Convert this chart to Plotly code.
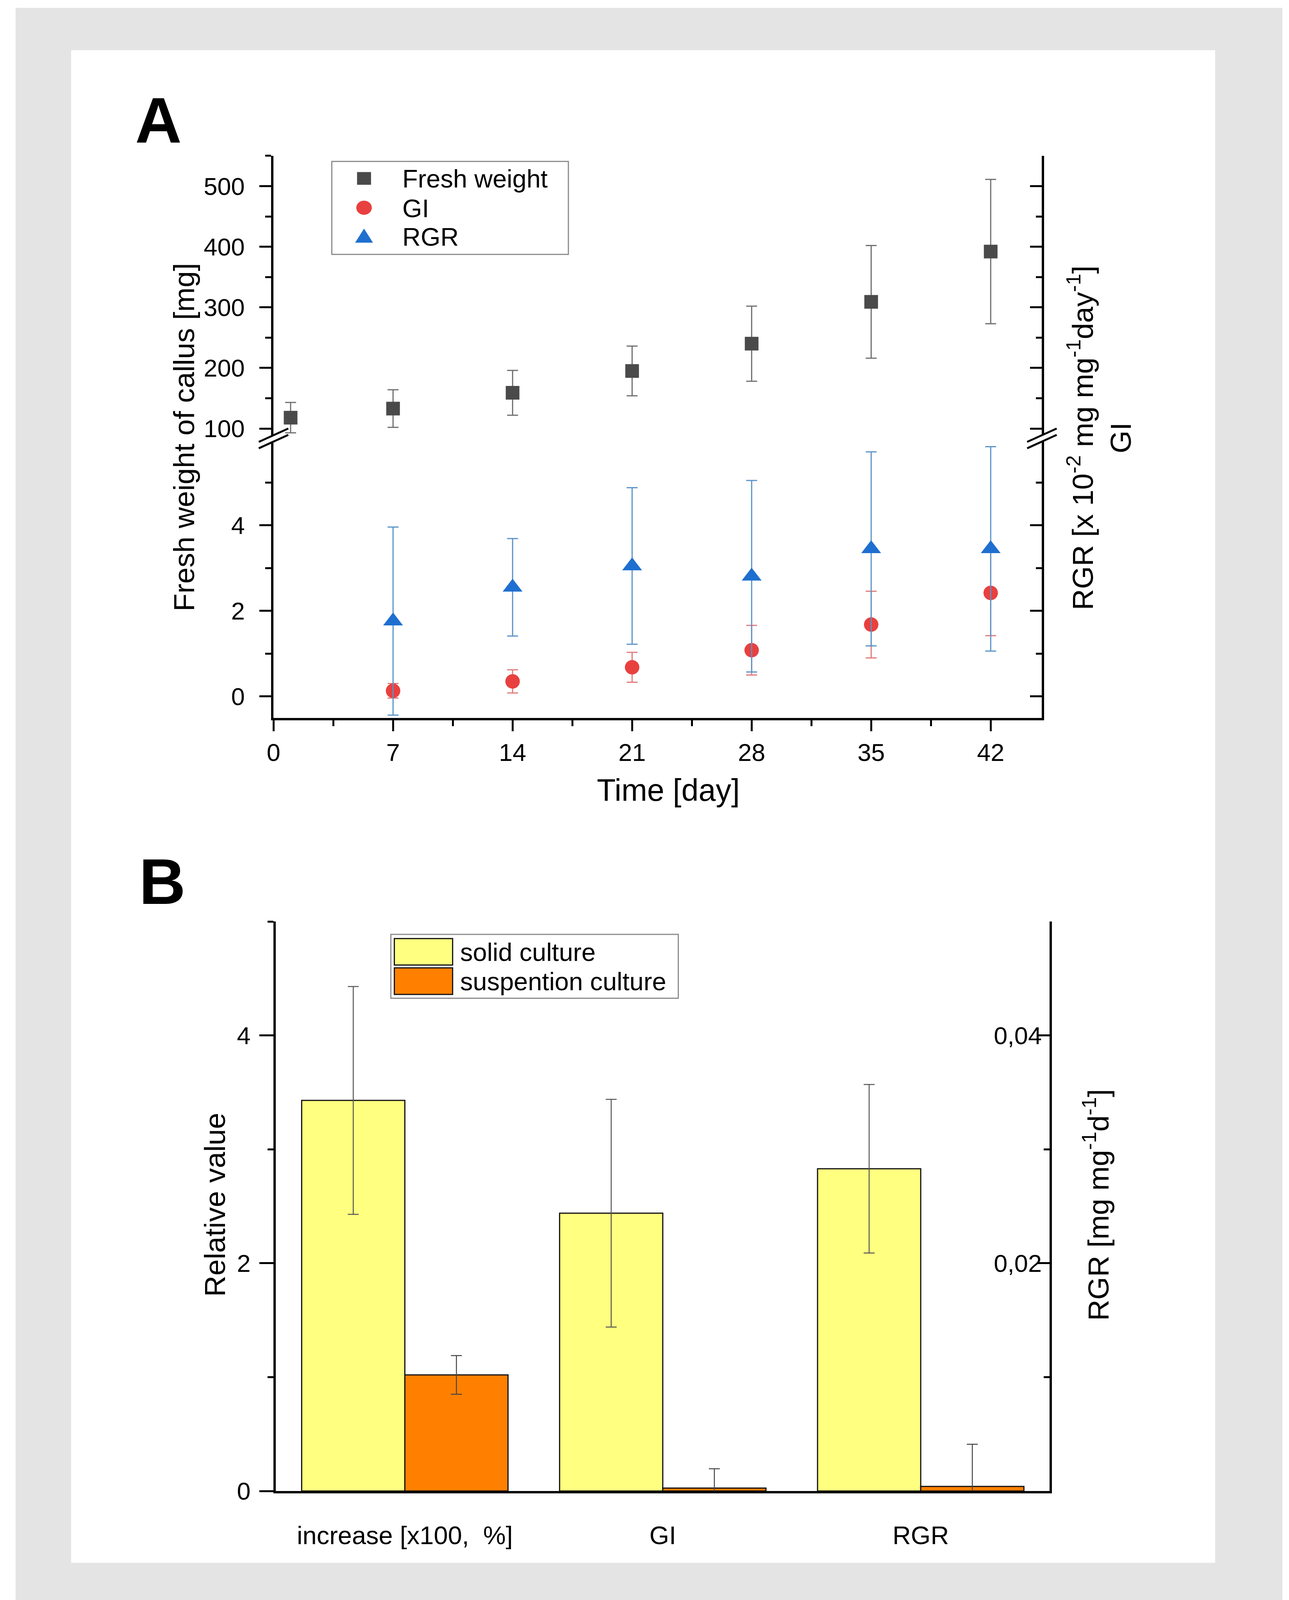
import plotly.graph_objects as go

# panel A data
days = [1, 7, 14, 21, 28, 35, 42]
fresh_weight = [118, 133, 159, 195, 240, 309, 392]
fresh_weight_err = [25, 31, 37, 41, 62, 93, 119]
gi_days = [7, 14, 21, 28, 35, 42]
gi = [0.13, 0.35, 0.68, 1.08, 1.68, 2.42]
gi_err = [0.17, 0.27, 0.35, 0.58, 0.78, 1.0]
rgr = [1.76, 2.55, 3.05, 2.81, 3.45, 3.45]
rgr_err = [2.2, 1.14, 1.83, 2.24, 2.27, 2.39]

# panel B data
categories = ["increase [x100,  %]", "GI", "RGR"]
solid = [3.43, 2.44, 2.83]
solid_err = [1.0, 1.0, 0.74]
suspension = [1.02, 0.026, 0.041]
suspension_err = [0.17, 0.17, 0.37]

FONT = "Liberation Sans, Arial, sans-serif"

# the visible page is about 3300 x 4175, so the reference layout (3300 x 4578)
# is squeezed vertically to fit
FW, FH = 3284, 4158
SY = 4175 / 4578
FS_H = 0.96   # horizontal text
FS_V = 0.92   # rotated text


def fx(rx):
    return (rx - 8) / FW


def fy(ry):
    return 1 - (ry * SY - 8) / FH


fig = go.Figure()

fig.add_trace(go.Scatter(
    x=days, y=fresh_weight, mode="markers", name="Fresh weight",
    marker=dict(symbol="square", size=35, color="#4a4a4a"),
    error_y=dict(type="data", array=fresh_weight_err, color="#6e6e6e", thickness=3, width=14),
    xaxis="x", yaxis="y"))
fig.add_trace(go.Scatter(
    x=gi_days, y=gi, mode="markers", name="GI",
    marker=dict(symbol="circle", size=37, color="#e8403f"),
    error_y=dict(type="data", array=gi_err, color="#e07a7a", thickness=3, width=14),
    xaxis="x", yaxis="y2"))
fig.add_trace(go.Scatter(
    x=gi_days, y=rgr, mode="markers", name="RGR",
    marker=dict(symbol="triangle-up", size=44, color="#1f6fd0"),
    error_y=dict(type="data", array=rgr_err, color="#5a93c8", thickness=3, width=14),
    xaxis="x", yaxis="y2"))

fig.add_trace(go.Bar(
    x=categories, y=solid, name="solid culture",
    marker=dict(color="#ffff80", line=dict(color="#111111", width=3)),
    error_y=dict(type="data", array=solid_err, color="#555555", thickness=2.5, width=14),
    xaxis="x2", yaxis="y5"))
fig.add_trace(go.Bar(
    x=categories, y=suspension, name="suspention culture",
    marker=dict(color="#ff8000", line=dict(color="#111111", width=3)),
    error_y=dict(type="data", array=suspension_err, color="#444444", thickness=2.5, width=14),
    xaxis="x2", yaxis="y5"))

# empty traces so the right-hand axes get drawn
for xa, ya, xs in (("x", "y3", days), ("x", "y4", days), ("x2", "y6", categories)):
    fig.add_trace(go.Scatter(x=xs, y=[None] * len(xs), mode="markers", showlegend=False,
                             hoverinfo="skip", xaxis=xa, yaxis=ya))

tickfont = dict(family=FONT, size=round(66 * FS_H), color="black")
axis_common = dict(showline=True, linecolor="black", linewidth=6, showgrid=False,
                   zeroline=False, tickfont=tickfont, tickcolor="black", tickwidth=5)


def minor(vals, side):
    return dict(tickvals=vals, ticklen=15, tickwidth=5, ticks=side, tickcolor="black")


fig.update_layout(
    width=FW, height=FH,
    margin=dict(l=0, r=0, t=0, b=0),
    paper_bgcolor="white", plot_bgcolor="rgba(0,0,0,0)",
    showlegend=False,
    barmode="group", bargap=0.2, bargroupgap=0,
    xaxis=dict(domain=[fx(686), fx(2664)], range=[0, 45], anchor="y2",
               tickvals=[0, 7, 14, 21, 28, 35, 42], ticks="outside", ticklen=28,
               ticklabelstandoff=0,
               minor=minor([3.5, 10.5, 17.5, 24.5, 31.5, 38.5], "outside"),
               **axis_common),
    yaxis=dict(domain=[fy(1232), fy(441)], range=[89, 550], anchor="x",
               tickvals=[100, 200, 300, 400, 500], ticks="outside", ticklen=30,
               ticklabelstandoff=25,
               minor=minor([150, 250, 350, 450, 550], "outside"),
               **axis_common),
    yaxis2=dict(domain=[fy(2033), fy(1250)], range=[-0.51, 5.96], anchor="x",
                tickvals=[0, 2, 4], ticks="outside", ticklen=30, ticklabelstandoff=25,
                minor=minor([1, 3, 5], "outside"),
                **axis_common),
    yaxis3=dict(overlaying="y", side="right", anchor="x", range=[89, 550],
                tickvals=[100, 200, 300, 400, 500], ticks="inside", ticklen=30,
                showticklabels=False,
                minor=minor([150, 250, 350, 450, 550], "inside"),
                **axis_common),
    yaxis4=dict(overlaying="y2", side="right", anchor="x", range=[-0.51, 5.96],
                tickvals=[0, 2, 4], ticks="inside", ticklen=30, showticklabels=False,
                minor=minor([1, 3, 5], "inside"),
                **axis_common),
    xaxis2=dict(domain=[fx(692), fx(2684)], range=[-0.5, 2.5], anchor="y5", ticks="",
                type="category", ticklabelstandoff=52,
                **{**axis_common, "tickfont": dict(family=FONT, size=round(68 * FS_H),
                                                   color="black")}),
    yaxis5=dict(domain=[fy(4221), fy(2609)], range=[0, 5], anchor="x2",
                tickvals=[0, 2, 4], ticks="outside", ticklen=36, ticklabelstandoff=10,
                minor=minor([1, 3, 5], "outside"),
                **axis_common),
    yaxis6=dict(overlaying="y5", side="right", anchor="x2", range=[0, 0.05],
                tickvals=[0.02, 0.04], ticktext=["0,02", "0,04"],
                ticks="inside", ticklen=30, ticklabelposition="inside",
                minor=minor([0.01, 0.03, 0.05], "inside"),
                **axis_common),
)

shapes = []


def rect(x0, y0, x1, y1, fill, line=None, layer="above"):
    shapes.append(dict(type="rect", xref="paper", yref="paper", layer=layer,
                       x0=fx(x0), x1=fx(x1), y0=fy(y1), y1=fy(y0),
                       fillcolor=fill, line=line or dict(width=0)))


# outer frame
rect(22, 22, 3283, 4560, "#e5e4e5", layer="below")
rect(165, 142, 3110, 4424, "white", layer="below")

# axis break marks
for xc in (686, 2664):
    yc = 1241
    for off in (-9, 9):
        shapes.append(dict(type="line", xref="paper", yref="paper",
                           x0=fx(xc - 38), y0=fy(yc + off + 19),
                           x1=fx(xc + 38), y1=fy(yc + off - 19),
                           line=dict(color="black", width=5)))

# legend A
rect(836, 457, 1445, 720, "white", dict(color="#8c8c8c", width=3))
mx = 919
rect(mx - 18, 487, mx + 18, 523, "#4a4a4a")
shapes.append(dict(type="circle", xref="paper", yref="paper",
                   x0=fx(mx - 20), x1=fx(mx + 20), y0=fy(588 + 20), y1=fy(588 - 20),
                   fillcolor="#e8403f", line=dict(width=0)))
shapes.append(dict(type="path", xref="paper", yref="paper",
                   path="M {},{} L {},{} L {},{} Z".format(
                       fx(mx - 23), fy(687), fx(mx + 23), fy(687), fx(mx), fy(647)),
                   fillcolor="#1f6fd0", line=dict(width=0)))

# legend B
rect(988, 2645, 1728, 2826, "white", dict(color="#8c8c8c", width=3))
rect(997, 2657, 1147, 2732, "#ffff80", dict(color="#111111", width=3))
rect(997, 2740, 1147, 2815, "#ff8000", dict(color="#111111", width=3))

fig.update_layout(shapes=shapes)

title_h = dict(family=FONT, size=round(82 * FS_H), color="black")
title_v = dict(family=FONT, size=round(82 * FS_V), color="black")
leg_font = dict(family=FONT, size=round(68 * FS_H), color="black")
label_font = dict(family=FONT, size=round(172 * FS_H), color="black")
ann = []


def note(text, x, y, font, angle=0, xanchor="center", yanchor="middle"):
    ann.append(dict(text=text, x=fx(x), y=fy(y), xref="paper", yref="paper",
                    showarrow=False, font=font, textangle=angle,
                    xanchor=xanchor, yanchor=yanchor))


note("<b>A</b>", 328, 340, label_font, xanchor="left")
note("<b>B</b>", 338, 2496, label_font, xanchor="left")
note("Fresh weight of callus [mg]", 455, 1238, title_v, angle=-90)
note("RGR [x 10<sup>-2</sup> mg mg<sup>-1</sup>day<sup>-1</sup>]<br>GI", 2812, 1240,
     title_v, angle=-90)
note("Time [day]", 1702, 2237, title_h)
note("Relative value", 534, 3411, title_v, angle=-90)
note("RGR [mg mg<sup>-1</sup>d<sup>-1</sup>]", 2803, 3411, title_v, angle=-90)
note("Fresh weight", 1016, 506, leg_font, xanchor="left")
note("GI", 1016, 590, leg_font, xanchor="left")
note("RGR", 1016, 671, leg_font, xanchor="left")
note("solid culture", 1164, 2695, leg_font, xanchor="left")
note("suspention culture", 1164, 2778, leg_font, xanchor="left")
fig.update_layout(annotations=ann)

fig.write_html("out.html")
